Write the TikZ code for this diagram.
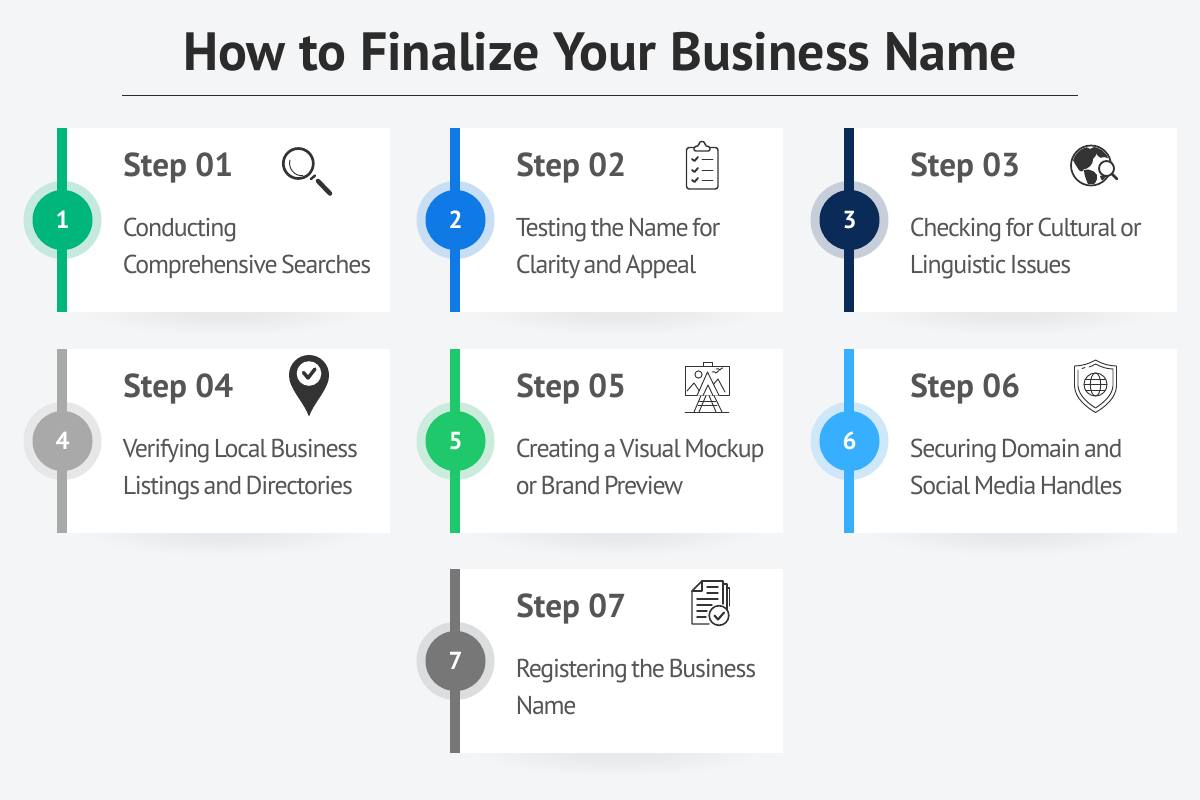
\documentclass[tikz,border=0pt]{standalone}
\usepackage{fontspec}
\setmainfont{PT Sans}
\newfontfamily\tightfont[LetterSpace=-4.6,WordSpace=0.6]{PT Sans}
\definecolor{bgc}{HTML}{F3F5F7}
\definecolor{ink}{HTML}{2B2B2B}
\definecolor{txt}{HTML}{555555}
\definecolor{icn}{HTML}{333333}
\definecolor{c1}{HTML}{00B67A}
\definecolor{c2}{HTML}{0F7AE5}
\definecolor{c3}{HTML}{0A2A57}
\definecolor{c4}{HTML}{A9A9A9}
\definecolor{c5}{HTML}{1FC86A}
\definecolor{c6}{HTML}{38AEFF}
\definecolor{c7}{HTML}{777777}
\tikzset{
  x=0.75pt,y=-0.75pt,
  titletext/.style={font=\fontsize{40.4}{46}\selectfont\bfseries,text=ink,anchor=base,inner sep=0},
  steptext/.style={font=\fontsize{24.9}{28}\selectfont\bfseries,text=txt,anchor=base west,inner sep=0},
  bodytext/.style={font=\fontsize{19.4}{24}\tightfont\selectfont,text=txt,anchor=base west,inner sep=0},
  numtext/.style={font=\fontsize{18.5}{20}\selectfont\bfseries,text=white,inner sep=0},
  cardbox/.style={fill=white,draw=none,minimum width=249.75pt,minimum height=138pt,inner sep=0,anchor=north west},
  barbox/.style={draw=none,minimum width=7.5pt,minimum height=138pt,inner sep=0,anchor=north west},
  dotbox/.style={circle,draw=none,minimum size=45pt,inner sep=0},
  halobox/.style={circle,draw=none,minimum size=58.5pt,inner sep=0},
  icl/.style={draw=icn,line width=1.1pt,line cap=round,line join=round,fill=none},
  ict/.style={draw=icn,line width=0.7pt,line cap=round,line join=round,fill=none},
}
\newcommand{\softshadow}[2]{%
  \foreach \k in {0,...,11}{%
    \fill[black,opacity=0.005]
      ({#1+168},{#2+184}) ellipse ({140-9*\k} and {23-1.4*\k});
  }}
\newcommand{\stepcard}[8]{%
  % #1 id, #2 x, #3 y, #4 colour, #5 number, #6 heading, #7 line 1, #8 line 2
  \softshadow{#2}{#3}
  \node[cardbox] (card#1) at (#2,#3) {};
  \node[halobox,fill=#4!19!bgc] (halo#1) at ({#2+5.5},{#3+92}) {};
  \node[barbox,fill=#4] (bar#1) at (#2,#3) {};
  \node[dotbox,fill=#4] (dot#1) at ({#2+5.5},{#3+92}) {};
  \node[numtext] (num#1) at ({#2+5.5},{#3+92}) {#5};
  \node[steptext] (step#1) at ({#2+66},{#3+48.8}) {#6};
  \node[bodytext] (lineA#1) at ({#2+65.5},{#3+108.5}) {#7};
  \node[bodytext] (lineB#1) at ({#2+65.5},{#3+145.5}) {#8};
}
\begin{document}
\begin{tikzpicture}
\useasboundingbox (0,0) rectangle (1200,800);
\fill[bgc] (0,0) rectangle (1200,800);
\node[titletext] (title) at (600,70) {How to Finalize Your Business Name};
\coordinate (ruleL) at (122,95.5);
\coordinate (ruleR) at (1078,95.5);
\draw[ink,line width=1.1pt] (ruleL) -- (ruleR);

\stepcard{1}{57}{128}{c1}{1}{Step 01}{Conducting}{Comprehensive Searches}
\stepcard{2}{450}{128}{c2}{2}{Step 02}{Testing the Name for}{Clarity and Appeal}
\stepcard{3}{844}{128}{c3}{3}{Step 03}{Checking for Cultural or}{Linguistic Issues}
\stepcard{4}{57}{349}{c4}{4}{Step 04}{Verifying Local Business}{Listings and Directories}
\stepcard{5}{450}{349}{c5}{5}{Step 05}{Creating a Visual Mockup}{or Brand Preview}
\stepcard{6}{844}{349}{c6}{6}{Step 06}{Securing Domain and}{Social Media Handles}
\stepcard{7}{450}{569}{c7}{7}{Step 07}{Registering the Business}{Name}

% magnifier
\draw[icn,line width=2pt] (298.3,163.5) circle (15);
\draw[icn,line width=0.7pt,line cap=round] (290,160) .. controls (287.5,168) and (295,177) .. (303,175.5);
\draw[icn,line width=1.8pt,line cap=round] (311,179) -- (315,175.5);
\draw[icn,line width=3.4pt,line cap=round] (318,181) -- (330,193.5);

% clipboard
\draw[icl,rounded corners=2pt] (694,147.5) -- (686.5,147.5) -- (686.5,189) -- (718,189) -- (718,147.5) -- (710,147.5);
\draw[icl,rounded corners=1pt] (694,151) -- (694,147) -- (699,145.5) -- (699,142.5) -- (702,141) -- (705,142.5) -- (705,145.5) -- (710,147) -- (710,151) -- cycle;
\foreach \yy in {159,170,180}{
  \draw[icn,line width=1.4pt,line cap=round,line join=round] (692,\yy) -- (694.5,{\yy+2}) -- (698,{\yy-2});
  \draw[ict] (702,\yy) -- (713,\yy);
}

% globe with magnifier
\draw[icn,line width=1.3pt] (1091,165.5) circle (20);
\begin{scope}
\clip (1091,165.5) circle (18.7);
\fill[icn] (1074,150) .. controls (1080,145) and (1086,146) .. (1090,149) -- (1096,146) .. controls (1100,150) and (1096,156) .. (1093,159) .. controls (1094,164) and (1087,170) .. (1084,169) .. controls (1083,173) and (1079,172) .. (1077,167) .. controls (1074,162) and (1070,158) .. (1074,150) -- cycle;
\fill[icn] (1084,170) .. controls (1091,168) and (1099,173) .. (1097,179) .. controls (1096,183) and (1092,187) .. (1089,187) .. controls (1087,181) and (1084,176) .. (1084,170) -- cycle;
\fill[icn] (1097,146) .. controls (1103,145) and (1109,151) .. (1111,159) -- (1104,157) .. controls (1100,160) and (1094,155) .. (1097,146) -- cycle;
\fill[icn] (1100,176) .. controls (1104,174) and (1108,176) .. (1107,181) .. controls (1104,183) and (1101,181) .. (1100,176) -- cycle;
\end{scope}
\draw[icn,fill=white,line width=1.4pt] (1106.5,168.5) circle (7.5);
\draw[icn,line width=2pt,line cap=round] (1112,174) -- (1117,179);

% map pin
\fill[icn] (309,375) circle (20);
\fill[icn] (289.5,380) .. controls (293,393) and (304,403) .. (309,416.5) .. controls (314,403) and (325,393) .. (328.5,380) -- cycle;
\fill[white] (309,373.5) circle (12.3);
\draw[icn,line width=2.6pt,line cap=round,line join=round] (303.5,372.5) -- (308,378) -- (315,369);

% easel
\draw[ict] (685,366) rectangle (729,395.5);
\draw[ict] (703,366) -- (703,362) -- (712,362) -- (712,366);
\draw[ict] (698.5,374.5) circle (3.6);
\draw[ict,fill=white] (687,391) -- (694,383) -- (700,392);
\draw[ict,fill=white] (725,392) -- (718,379) -- (712,386);
\draw[ict,fill=white] (697,395.5) -- (707.5,372) -- (719,395.5);
\draw[ict] (703,395.5) -- (708,385) -- (713,395.5);
\draw[ict] (712,372) .. controls (714,371) and (715,372) .. (716,373) .. controls (717,371) and (718,371) .. (719,370.5);
\draw[ict] (716,369) .. controls (718,368) and (719,369) .. (720,370) .. controls (721,368) and (722,368) .. (723,368);
\draw[ict] (701,395.5) -- (694,412);
\draw[ict] (706,395.5) -- (699,412);
\draw[ict] (709,395.5) -- (716,412);
\draw[ict] (714,395.5) -- (722,412);
\draw[ict] (699.5,401) -- (716,401);
\draw[ict] (698,405) -- (717,405);
\draw[ict] (685,412.5) -- (729,412.5);

% shield
\draw[ict] (1095.5,360) .. controls (1089,364) and (1081,366) .. (1074.5,366) -- (1074.5,386) .. controls (1075,398) and (1086,407) .. (1095.5,412.5) .. controls (1105,407) and (1116,398) .. (1116.5,386) -- (1116.5,366) .. controls (1110,366) and (1102,364) .. (1095.5,360) -- cycle;
\draw[ict] (1078,370) -- (1078,386) .. controls (1079,396) and (1088,403) .. (1095.5,408) .. controls (1103,403) and (1112,396) .. (1113,386) -- (1113,369) .. controls (1107,369) and (1101,367) .. (1095.5,364) .. controls (1093,365.5) and (1091,366.5) .. (1089,367);
\draw[ict] (1082,368.5) -- (1085,367.5);
\draw[ict] (1095.5,384.5) circle (11.5);
\draw[ict] (1095.5,384.5) ellipse (5.2 and 11.5);
\draw[ict] (1084,384.5) -- (1107,384.5);
\draw[ict] (1085.5,379) -- (1105.5,379);
\draw[ict] (1085.5,390) -- (1105.5,390);

% documents
\draw[icl] (724,584) -- (727,584) -- (727,612);
\draw[icl] (727.5,588) -- (729.5,588) -- (729.5,606);
\draw[icl] (702,581) -- (723,581) -- (723,604);
\draw[icl] (702,581) -- (692,591) -- (692,624) -- (709,624);
\draw[icl] (702,581) -- (702,591) -- (692,591);
\foreach \yy/\xa/\xb in {587/707/718,593/707/718,599/697/718,605/697/712,611/697/707,617/697/706}{
  \draw[icl] (\xa,\yy) -- (\xb,\yy);
}
\draw[icn,fill=white,line width=1.2pt] (719,615.5) circle (9.8);
\draw[icn,line width=1.6pt,line cap=round,line join=round] (714.5,615.5) -- (718,619.5) -- (724,612.5);
\end{tikzpicture}
\end{document}
